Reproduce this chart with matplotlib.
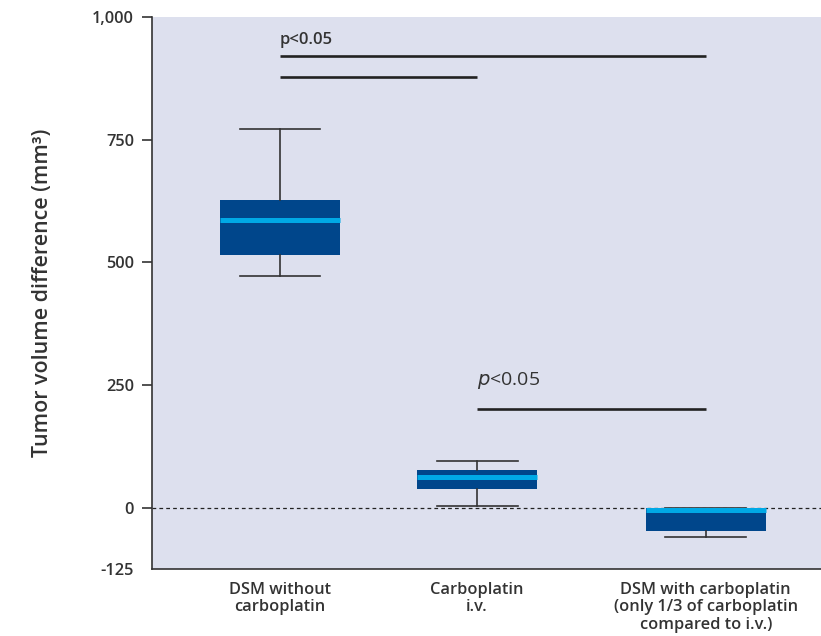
import matplotlib
matplotlib.use("Agg")
import matplotlib.pyplot as plt

categories = ["DSM without\ncarboplatin", "Carboplatin\ni.v.",
              "DSM with carboplatin\n(only 1/3 of carboplatin\ncompared to i.v.)"]
whisker_low = [472, 4, -59]
q1 = [515, 39, -48]
median = [586, 62, -5]
q3 = [627, 77, -1]
whisker_high = [772, 96, -1]
yticks = [-125, 0, 250, 500, 750, 1000]
ytick_labels = ["-125", "0", "250", "500", "750", "1,000"]
sig_label = "p<0.05"

positions = [1.0, 2.0, 3.16]

plt.rcParams['font.family'] = ['Open Sans', 'DejaVu Sans']

fig = plt.figure(figsize=(8.21, 6.36), dpi=100)
ax = fig.add_axes([0.1851, 0.1053, 0.8149, 0.868])
ax.set_facecolor("#dde0ee")

stats = []
for i in range(3):
    stats.append(dict(whislo=whisker_low[i], q1=q1[i], med=median[i], q3=q3[i],
                      whishi=whisker_high[i], fliers=[]))

ax.bxp(stats, positions=positions, widths=0.61, capwidths=0.41, showfliers=False,
       patch_artist=True,
       boxprops=dict(facecolor="#00468b", edgecolor="none", linewidth=0),
       medianprops=dict(color="#00a9e6", linewidth=3.6, solid_capstyle="butt"),
       whiskerprops=dict(color="#333333", linewidth=1.2),
       capprops=dict(color="#333333", linewidth=1.2),
       zorder=3)

ax.axhline(0, color="#222222", linestyle=(0, (3, 2.5)), linewidth=0.9, zorder=2)

# significance bars
ax.plot([positions[0], positions[2]], [920, 920], color="#222222", lw=1.9, solid_capstyle="butt")
ax.plot([positions[0], positions[1]], [877, 877], color="#222222", lw=1.9, solid_capstyle="butt")
ax.text(positions[0], 937, sig_label, fontsize=12, fontweight="semibold",
        color="#333333", ha="left", va="bottom")
ax.plot([positions[1], positions[2]], [202, 202], color="#222222", lw=1.9, solid_capstyle="butt")
ax.text(positions[1], 238, r"$\it{p}$<0.05", fontsize=14, color="#333333",
        ha="left", va="bottom")

ax.set_ylim(-125, 1000)
ax.set_xlim(0.35, 3.745)
ax.set_yticks(yticks)
ax.set_yticklabels(ytick_labels, fontsize=11.8, fontweight="semibold", color="#333333")
ax.set_xticks(positions)
ax.set_xticklabels(categories, fontsize=11.8, fontweight="semibold", color="#333333",
                   linespacing=1.15)
ax.tick_params(axis="x", length=0, pad=9)
ax.tick_params(axis="y", length=7, width=1.2, color="#333333", pad=6)
ax.yaxis.get_major_ticks()[0].tick1line.set_visible(False)

for s in ["top", "right"]:
    ax.spines[s].set_visible(False)
for s in ["left", "bottom"]:
    ax.spines[s].set_color("#333333")
    ax.spines[s].set_linewidth(1.2)

ax.set_ylabel("Tumor volume difference (mm³)", fontsize=15.4, fontweight="semibold",
              color="#333333", labelpad=28)

fig.savefig("out.png", dpi=100)
